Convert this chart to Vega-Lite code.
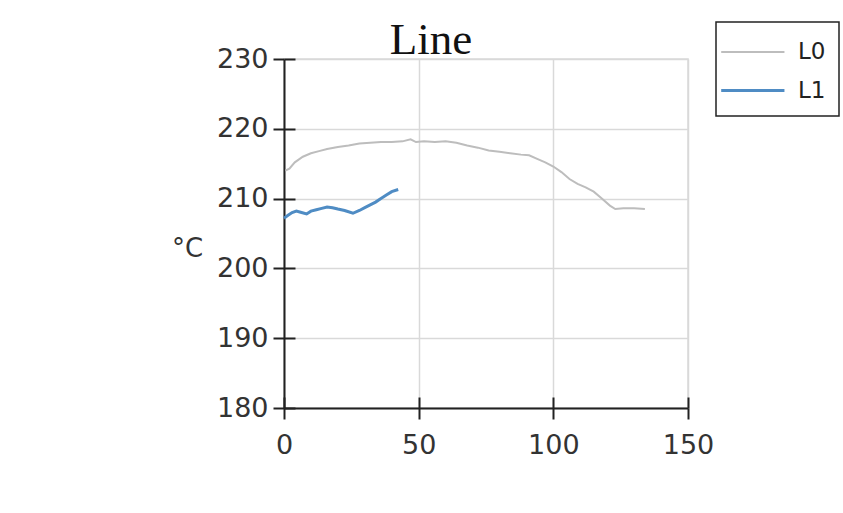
{
  "$schema": "https://vega.github.io/schema/vega-lite/v6.json",
  "width": 404,
  "height": 349,
  "autosize": {"type": "none"},
  "padding": {"left": 284, "top": 59, "right": 155, "bottom": 105},
  "background": "white",
  "title": {"text": "Line", "font": "Liberation Serif", "fontSize": 45, "fontWeight": "normal", "color": "#111", "anchor": "middle", "frame": "group", "baseline": "alphabetic", "offset": -78, "dx": -55},
  "config": {"view": {"stroke": "#d9d9d9", "strokeWidth": 1.5}, "legend": {"strokeWidth": 1.5}},
  "data": {"values": [
    {"series": "L0", "x": 0.5, "y": 214.0},
    {"series": "L0", "x": 2, "y": 214.3},
    {"series": "L0", "x": 4, "y": 215.2},
    {"series": "L0", "x": 7, "y": 216.0},
    {"series": "L0", "x": 10, "y": 216.5},
    {"series": "L0", "x": 13, "y": 216.8},
    {"series": "L0", "x": 16, "y": 217.1},
    {"series": "L0", "x": 20, "y": 217.4},
    {"series": "L0", "x": 24, "y": 217.6},
    {"series": "L0", "x": 28, "y": 217.9},
    {"series": "L0", "x": 32, "y": 218.0},
    {"series": "L0", "x": 36, "y": 218.1},
    {"series": "L0", "x": 40, "y": 218.1},
    {"series": "L0", "x": 44, "y": 218.2},
    {"series": "L0", "x": 47, "y": 218.5},
    {"series": "L0", "x": 49, "y": 218.1},
    {"series": "L0", "x": 52, "y": 218.2},
    {"series": "L0", "x": 56, "y": 218.1},
    {"series": "L0", "x": 60, "y": 218.2},
    {"series": "L0", "x": 64, "y": 218.0},
    {"series": "L0", "x": 68, "y": 217.6},
    {"series": "L0", "x": 72, "y": 217.3},
    {"series": "L0", "x": 76, "y": 216.9},
    {"series": "L0", "x": 80, "y": 216.7},
    {"series": "L0", "x": 84, "y": 216.5},
    {"series": "L0", "x": 88, "y": 216.3},
    {"series": "L0", "x": 91, "y": 216.2},
    {"series": "L0", "x": 94, "y": 215.7},
    {"series": "L0", "x": 97, "y": 215.2},
    {"series": "L0", "x": 100, "y": 214.6},
    {"series": "L0", "x": 103, "y": 213.8},
    {"series": "L0", "x": 106, "y": 212.8},
    {"series": "L0", "x": 109, "y": 212.1},
    {"series": "L0", "x": 112, "y": 211.6},
    {"series": "L0", "x": 115, "y": 211.0},
    {"series": "L0", "x": 118, "y": 210.0},
    {"series": "L0", "x": 121, "y": 209.0},
    {"series": "L0", "x": 123, "y": 208.5},
    {"series": "L0", "x": 126, "y": 208.6},
    {"series": "L0", "x": 130, "y": 208.6},
    {"series": "L0", "x": 134, "y": 208.5},
    {"series": "L1", "x": 0, "y": 207.2},
    {"series": "L1", "x": 1.5, "y": 207.6},
    {"series": "L1", "x": 3, "y": 208.0},
    {"series": "L1", "x": 4.6, "y": 208.2},
    {"series": "L1", "x": 6.5, "y": 208.0},
    {"series": "L1", "x": 8.4, "y": 207.8},
    {"series": "L1", "x": 10, "y": 208.2},
    {"series": "L1", "x": 12, "y": 208.4},
    {"series": "L1", "x": 14, "y": 208.6},
    {"series": "L1", "x": 16, "y": 208.8},
    {"series": "L1", "x": 18, "y": 208.7},
    {"series": "L1", "x": 20, "y": 208.5},
    {"series": "L1", "x": 22.5, "y": 208.3},
    {"series": "L1", "x": 25.6, "y": 207.9},
    {"series": "L1", "x": 28, "y": 208.3},
    {"series": "L1", "x": 30, "y": 208.7},
    {"series": "L1", "x": 32, "y": 209.1},
    {"series": "L1", "x": 34, "y": 209.5},
    {"series": "L1", "x": 36, "y": 210.0},
    {"series": "L1", "x": 38, "y": 210.5},
    {"series": "L1", "x": 40, "y": 211.0},
    {"series": "L1", "x": 42.4, "y": 211.3}
  ]},
  "layer": [
    {
      "mark": {"type": "line", "interpolate": "linear"},
      "encoding": {
        "x": {"field": "x", "type": "quantitative", "scale": {"domain": [0, 150], "nice": false, "zero": false},
          "axis": {"values": [0, 50, 100, 150], "title": null, "grid": true, "gridColor": "#d9d9d9", "gridWidth": 1.5, "domainColor": "#222", "domainWidth": 2, "tickColor": "#222", "tickWidth": 2, "tickSize": 11, "labelFont": "DejaVu Sans", "labelFontSize": 27, "labelColor": "#333", "labelPadding": 13, "labelFlush": false}},
        "y": {"field": "y", "type": "quantitative", "scale": {"domain": [180, 230], "nice": false, "zero": false},
          "axis": {"values": [180, 190, 200, 210, 220, 230], "title": "°C", "titleAngle": 0, "titleFont": "DejaVu Sans", "titleFontSize": 26, "titleFontWeight": "normal", "titleColor": "#333", "titleAlign": "center", "titleBaseline": "middle", "titleX": -97, "titleY": 189, "grid": true, "gridColor": "#d9d9d9", "gridWidth": 1.5, "domainColor": "#222", "domainWidth": 2, "tickColor": "#222", "tickWidth": 2, "tickSize": 11, "labelFont": "DejaVu Sans", "labelFontSize": 27, "labelColor": "#333", "labelPadding": 5, "labelFlush": false}},
        "color": {"field": "series", "type": "nominal", "scale": {"domain": ["L0", "L1"], "range": ["#bdbdbd", "#4f8cc4"]},
          "legend": {"title": null, "orient": "none", "legendX": 432, "legendY": -37, "strokeColor": "#222", "padding": 13, "symbolType": "M-1.6,0H2.4", "symbolSize": 1000, "symbolStrokeWidth": 2.5, "labelOffset": 34, "labelFont": "DejaVu Sans", "labelFontSize": 23, "labelColor": "#222", "rowPadding": 9, "fillColor": "white"}},
        "strokeWidth": {"field": "series", "type": "nominal", "scale": {"domain": ["L0", "L1"], "range": [2, 3]}, "legend": null}
      }
    },
    {
      "mark": {"type": "point", "opacity": 0},
      "encoding": {
        "x": {"field": "x", "type": "quantitative", "axis": {"orient": "bottom", "offset": -11, "values": [0, 50, 100, 150], "title": null, "grid": false, "domain": false, "labels": false, "tickColor": "#222", "tickWidth": 2, "tickSize": 11}},
        "y": {"field": "y", "type": "quantitative", "axis": {"orient": "left", "offset": -11, "values": [180, 190, 200, 210, 220, 230], "title": null, "grid": false, "domain": false, "labels": false, "tickColor": "#222", "tickWidth": 2, "tickSize": 11}}
      }
    }
  ],
  "resolve": {"axis": {"x": "independent", "y": "independent"}}
}
